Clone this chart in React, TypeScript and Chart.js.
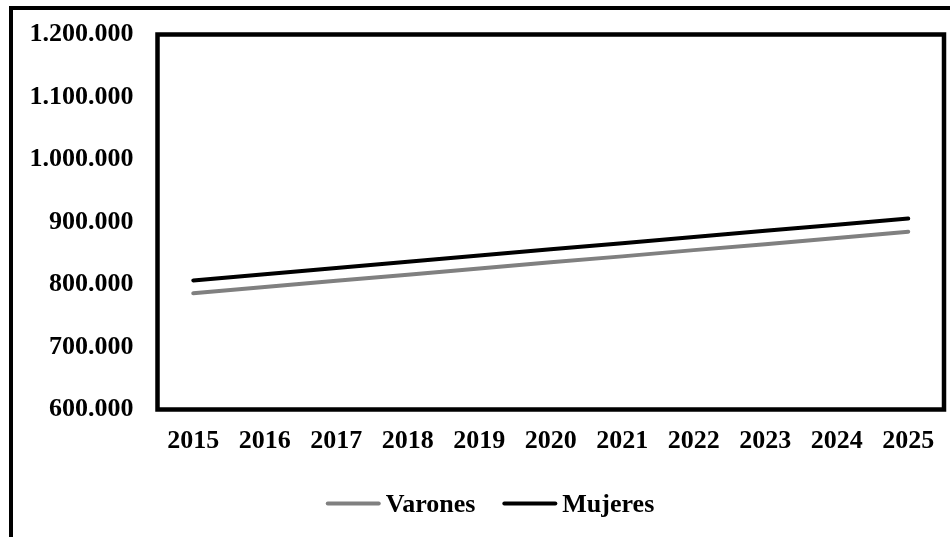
import { useEffect, useRef } from "react";
import { Chart, registerables } from "chart.js";

Chart.register(...registerables);

const years = ["2015", "2016", "2017", "2018", "2019", "2020", "2021", "2022", "2023", "2024", "2025"];
const varones = [786000, 796000, 806000, 815500, 825500, 835500, 845000, 855000, 864500, 874500, 884500];
const mujeres = [806500, 816500, 826500, 836500, 846500, 856500, 866000, 876000, 886000, 895500, 905500];
const seriesNames = ["Varones", "Mujeres"];
const seriesColors = ["#808080", "#000000"];
const yMin = 600000;
const yMax = 1200000;
const yStep = 100000;

const FONT = "'Liberation Serif', 'Times New Roman', serif";
const FONT_SIZE = 26;

const fmt = (v: number) => String(Math.round(v)).replace(/\B(?=(\d{3})+(?!\d))/g, ".");

const framePlugin = {
  id: "plotFrame",
  afterDatasetsDraw(chart: any) {
    const { ctx, chartArea: a } = chart;
    ctx.save();
    ctx.strokeStyle = "#000";
    ctx.lineWidth = 4.5;
    ctx.strokeRect(a.left, a.top, a.right - a.left, a.bottom - a.top);
    ctx.restore();
  },
};

const legendPlugin = {
  id: "customLegend",
  afterDraw(chart: any) {
    const ctx = chart.ctx;
    ctx.save();
    ctx.font = `bold ${FONT_SIZE}px ${FONT}`;
    const lineLen = 55;
    const gap = 5;
    const itemGap = 27;
    const items = chart.data.datasets.map((ds: any) => ({
      label: ds.label,
      color: ds.borderColor,
      w: lineLen + gap + ctx.measureText(ds.label).width,
    }));
    const total = items.reduce((s: number, it: any) => s + it.w, 0) + itemGap * (items.length - 1);
    let x = 490 - total / 2;
    const yLine = 503.5;
    const yText = 512;
    for (const it of items) {
      ctx.strokeStyle = it.color;
      ctx.lineWidth = 4;
      ctx.lineCap = "round";
      ctx.beginPath();
      ctx.moveTo(x + 2, yLine);
      ctx.lineTo(x + lineLen - 2, yLine);
      ctx.stroke();
      ctx.fillStyle = "#000";
      ctx.textBaseline = "alphabetic";
      ctx.textAlign = "left";
      ctx.fillText(it.label, x + lineLen + gap, yText);
      x += it.w + itemGap;
    }
    ctx.restore();
  },
};

export default function App() {
  const canvasRef = useRef<HTMLCanvasElement | null>(null);

  useEffect(() => {
    if (!canvasRef.current) return;
    const datasets = [varones, mujeres].map((data, i) => ({
      label: seriesNames[i],
      data,
      borderColor: seriesColors[i],
      backgroundColor: seriesColors[i],
      borderWidth: 4,
      borderCapStyle: "round" as const,
      pointRadius: 0,
      tension: 0,
      fill: false,
    }));
    const chart = new Chart(canvasRef.current, {
      type: "line",
      data: { labels: years, datasets },
      options: {
        animation: false,
        responsive: false,
        maintainAspectRatio: false,
        layout: { padding: { left: 0, right: 6, top: 34.5, bottom: 0 } },
        plugins: {
          legend: { display: false },
          tooltip: { enabled: false },
        },
        scales: {
          x: {
            offset: true,
            grid: { display: false, drawTicks: false },
            border: { display: false },
            ticks: {
              color: "#000",
              font: { family: FONT, size: FONT_SIZE, weight: "bold" },
              padding: 16,
              maxRotation: 0,
              autoSkip: false,
            },
            afterFit(scale: any) {
              scale.height = 127.5;
              scale.paddingLeft = 0;
              scale.paddingRight = 0;
            },
          },
          y: {
            min: yMin,
            max: yMax,
            grid: { display: false, drawTicks: false },
            border: { display: false },
            ticks: {
              stepSize: yStep,
              color: "#000",
              font: { family: FONT, size: FONT_SIZE, weight: "bold" },
              padding: 24,
              callback: (v: any) => fmt(Number(v)),
            },
            afterFit(scale: any) {
              scale.width = 157.5;
              scale.paddingTop = 0;
              scale.paddingBottom = 0;
            },
          },
        },
      },
      plugins: [framePlugin, legendPlugin],
    });
    return () => chart.destroy();
  }, []);

  return (
    <div style={{ position: "fixed", left: 0, top: 0, width: 950, height: 537, background: "#fff" }}>
      <div
        style={{
          position: "absolute",
          left: 9,
          top: 6,
          right: 0,
          bottom: 0,
          borderLeft: "4px solid #000",
          borderTop: "4px solid #000",
        }}
      />
      <canvas
        ref={canvasRef}
        width={950}
        height={537}
        style={{ position: "absolute", left: 0, top: 0, width: 950, height: 537 }}
      />
    </div>
  );
}
